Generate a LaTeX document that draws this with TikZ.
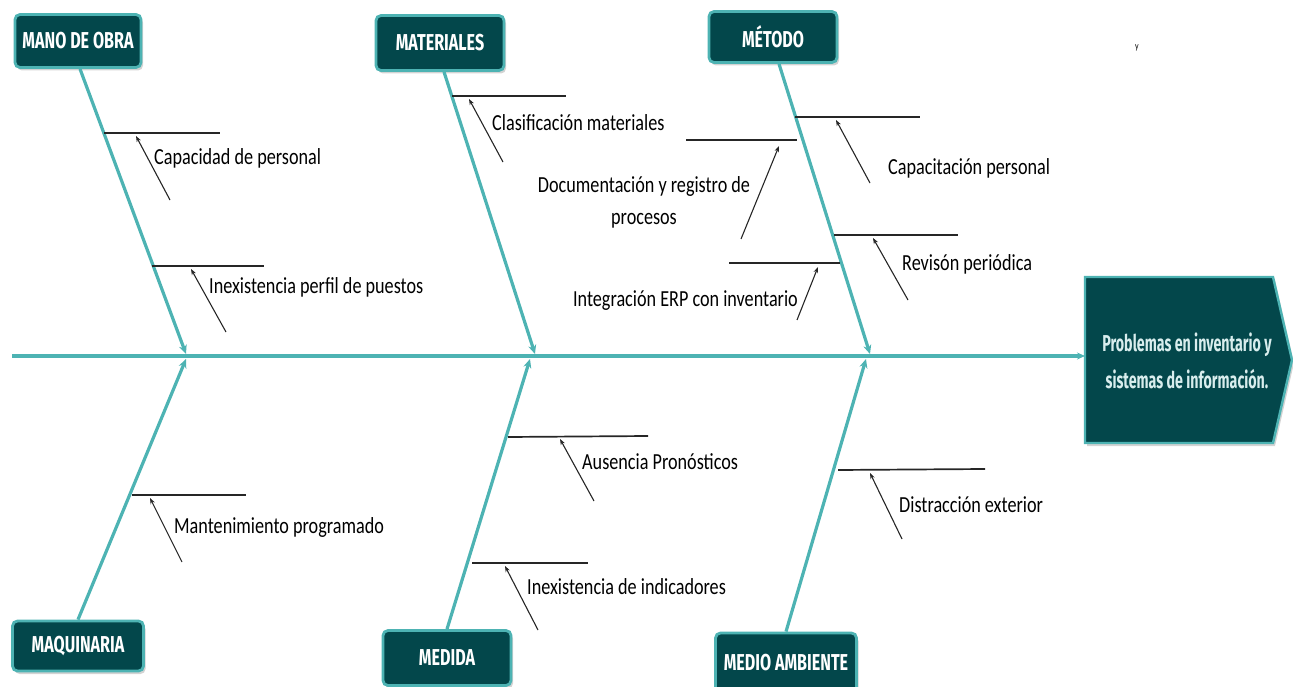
\documentclass[tikz,border=0pt]{standalone}
\usepackage{fontspec}
\setmainfont{Carlito}
\newfontfamily\labelfont[FakeStretch=0.79]{Carlito}
\newfontfamily\titlefont[FakeStretch=0.7]{Fira Sans}
\newfontfamily\headfont[FakeStretch=0.62]{Fira Sans}
\usetikzlibrary{arrows.meta,shadows}
\definecolor{bonecol}{HTML}{4DB3B3}
\definecolor{boxfill}{HTML}{03474B}
\definecolor{headtext}{HTML}{D8EDED}
\tikzset{
  cat/.style={draw=bonecol, line width=2.8pt, fill=boxfill, rounded corners=5pt,
    text=white, font=\titlefont\bfseries\fontsize{23}{24}\selectfont,
    inner sep=0pt, drop shadow={opacity=0.35, shadow xshift=2pt, shadow yshift=-3pt}},
  bone/.style={draw=bonecol, line width=3.2pt, -{Stealth[length=9pt,width=8pt]}},
  sub/.style={draw=black!85, line width=1.7pt},
  pointer/.style={draw=black!85, line width=1.1pt, -{Stealth[length=6pt,width=4.5pt]}},
  lbl/.style={font=\labelfont\fontsize{23}{32}\selectfont, anchor=west, inner sep=0pt},
}
\begin{document}
\begin{tikzpicture}[x=1pt,y=-1pt]
\useasboundingbox (0,0) rectangle (1293,687);

% category boxes
\node[cat, minimum width=126pt, minimum height=53pt] (mo)  at (78,41)   {MANO DE OBRA};
\node[cat, minimum width=128pt, minimum height=55pt] (mat) at (440,43)  {MATERIALES};
\node[cat, minimum width=128pt, minimum height=51pt] (met) at (773,37)  {MÉTODO};
\node[cat, minimum width=131pt, minimum height=50pt] (maq) at (78,646)  {MAQUINARIA};
\node[cat, minimum width=128pt, minimum height=55pt] (med) at (447,658) {MEDIDA};
\node[cat, minimum width=141pt, minimum height=60pt] (amb) at (786,663) {MEDIO AMBIENTE};

% head of the fish
\draw[fill=boxfill, draw=bonecol, line width=2.4pt,
      drop shadow={opacity=0.35, shadow xshift=2pt, shadow yshift=-3pt}]
  (1085,277) -- (1273,277) -- (1292,360) -- (1273,443) -- (1085,443) -- cycle;
\node[text=headtext, font=\headfont\bfseries\fontsize{23}{37}\selectfont,
      align=center, inner sep=0pt, minimum width=188pt, minimum height=166pt]
  (head) at (1187,361) {Problemas en inventario y\\sistemas de información.};

% spine
\coordinate (tail) at (12,356);
\coordinate (headin) at (1085,356);
\draw[bone, -{Stealth[length=8pt,width=7pt]}] (tail) -- (headin);

% main bones
\coordinate (j1) at (186,354); \coordinate (j2) at (535,354); \coordinate (j3) at (870,354);
\coordinate (k1) at (186,359); \coordinate (k2) at (530,359); \coordinate (k3) at (866,359);
\draw[bone] (mo.south)  ++(2,0) -- (j1);
\draw[bone] (mat.south) ++(4,0) -- (j2);
\draw[bone] (met.south) ++(6,0) -- (j3);
\draw[bone] (maq.north) -- (k1);
\draw[bone] (med.north) -- (k2);
\draw[bone] (amb.north) -- (k3);

% ---- Mano de obra
\coordinate (a1) at (104,133); \coordinate (b1) at (220,133);
\coordinate (t1) at (170,200); \coordinate (h1) at (136,136);
\draw[sub] (a1) -- (b1); \draw[pointer] (t1) -- (h1);
\node[lbl] (l1) at (154,158) {Capacidad de personal};

\coordinate (a2) at (152,266); \coordinate (b2) at (264,266);
\coordinate (t2) at (226,332); \coordinate (h2) at (191,269);
\draw[sub] (a2) -- (b2); \draw[pointer] (t2) -- (h2);
\node[lbl] (l2) at (209,287) {Inexistencia perfil de puestos};

% ---- Materiales
\coordinate (a3) at (452,96); \coordinate (b3) at (566,96);
\coordinate (t3) at (503,162); \coordinate (h3) at (469,99);
\draw[sub] (a3) -- (b3); \draw[pointer] (t3) -- (h3);
\node[lbl] (l3) at (492,123) {Clasificación materiales};

% ---- Método
\coordinate (a4) at (795,117); \coordinate (b4) at (920,117);
\coordinate (t4) at (870,183); \coordinate (h4) at (836,120);
\draw[sub] (a4) -- (b4); \draw[pointer] (t4) -- (h4);
\node[lbl] (l4) at (888,168) {Capacitación personal};

\coordinate (a5) at (686,140); \coordinate (b5) at (797,140);
\coordinate (t5) at (741,239); \coordinate (h5) at (779,146);
\draw[sub] (a5) -- (b5); \draw[pointer] (t5) -- (h5);
\node[lbl, anchor=center, align=center] (l5) at (644,202) {Documentación y registro de\\procesos};

\coordinate (a6) at (834,235); \coordinate (b6) at (958,235);
\coordinate (t6) at (908,300); \coordinate (h6) at (873,238);
\draw[sub] (a6) -- (b6); \draw[pointer] (t6) -- (h6);
\node[lbl] (l6) at (902,264) {Revisón periódica};

\coordinate (a7) at (729,263); \coordinate (b7) at (840,263);
\coordinate (t7) at (797,320); \coordinate (h7) at (818,267);
\draw[sub] (a7) -- (b7); \draw[pointer] (t7) -- (h7);
\node[lbl, anchor=east] (l7) at (798,301) {Integración ERP con inventario};

% ---- Maquinaria
\coordinate (a8) at (132,495); \coordinate (b8) at (246,495);
\coordinate (t8) at (182,562); \coordinate (h8) at (150,498);
\draw[sub] (a8) -- (b8); \draw[pointer] (t8) -- (h8);
\node[lbl] (l8) at (174,527) {Mantenimiento programado};

% ---- Medida
\coordinate (a9) at (508,437); \coordinate (b9) at (648,436);
\coordinate (t9) at (594,501); \coordinate (h9) at (560,439);
\draw[sub] (a9) -- (b9); \draw[pointer] (t9) -- (h9);
\node[lbl] (l9) at (582,462) {Ausencia Pronósticos};

\coordinate (a10) at (472,563); \coordinate (b10) at (588,563);
\coordinate (t10) at (538,630); \coordinate (h10) at (505,566);
\draw[sub] (a10) -- (b10); \draw[pointer] (t10) -- (h10);
\node[lbl] (l10) at (527,587) {Inexistencia de indicadores};

% ---- Medio ambiente
\coordinate (a11) at (838,470); \coordinate (b11) at (985,469);
\coordinate (t11) at (902,539); \coordinate (h11) at (870,473);
\draw[sub] (a11) -- (b11); \draw[pointer] (t11) -- (h11);
\node[lbl] (l11) at (899,505) {Distracción exterior};

% stray mark
\node[font=\labelfont\fontsize{10}{10}\selectfont, inner sep=0pt] (ymark) at (1137,48) {y};
\end{tikzpicture}
\end{document}
